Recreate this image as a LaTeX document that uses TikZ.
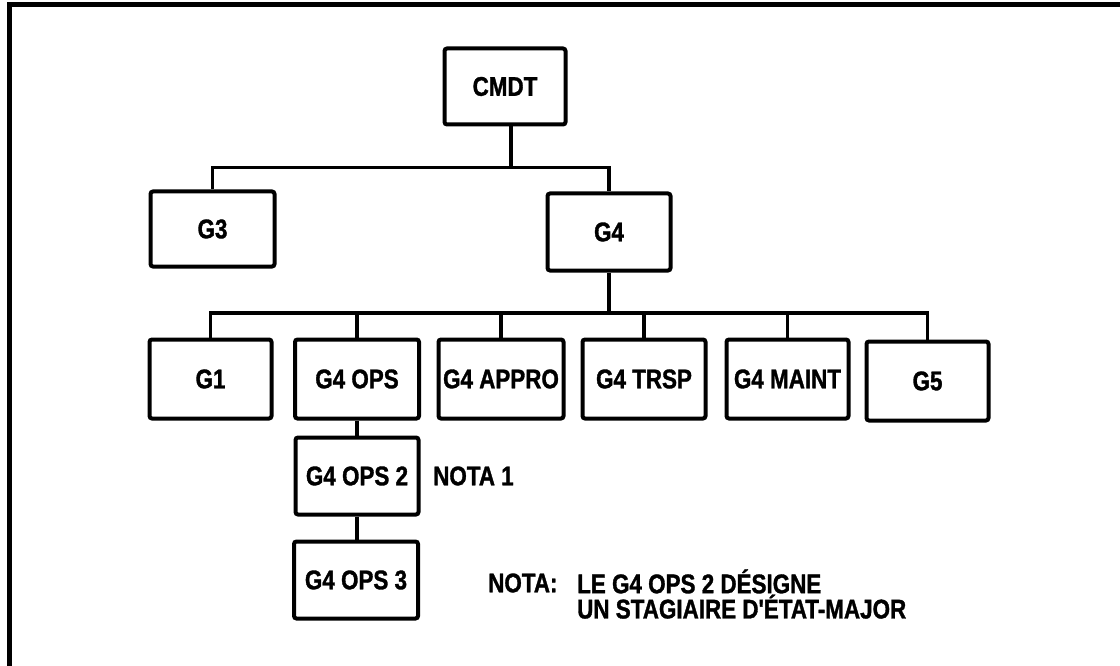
\documentclass[tikz,border=0pt]{standalone}
\usepackage{fontspec}
\newfontfamily\lab[FakeStretch=0.83,FakeBold=1.2]{Liberation Sans}
\begin{document}
\begin{tikzpicture}[x=1pt,y=-1pt,
  lbl/.style={font=\lab\bfseries\fontsize{27}{22}\selectfont},
  box/.style={lbl, draw, line width=4pt, rounded corners=2.5pt, inner sep=0pt, fill=white},
  wire/.style={line width=3.8pt},
  txt/.style={lbl, inner sep=0pt, align=left}]
\useasboundingbox (0,0) rectangle (1120,666);
\fill[white] (0,0) rectangle (1120,666);
\draw[line width=5pt] (1120,4.5) -- (9.5,4.5) -- (9.5,666);

\node[box, minimum width=121pt, minimum height=76pt] (cmdt) at (505,86.5) {CMDT};
\node[box, minimum width=124pt, minimum height=75pt] (g3) at (212.5,229) {G3};
\node[box, minimum width=123pt, minimum height=77pt] (g4) at (609,232) {G4};

\node[box, minimum width=122pt, minimum height=79pt] (g1) at (210.5,379) {G1};
\node[box, minimum width=124pt, minimum height=79pt] (ops) at (357,379) {G4 OPS};
\node[box, minimum width=125pt, minimum height=79pt] (appro) at (501,379) {G4 APPRO};
\node[box, minimum width=123pt, minimum height=79pt] (trsp) at (644,379) {G4 TRSP};
\node[box, minimum width=122pt, minimum height=79pt] (maint) at (787.5,379) {G4 MAINT};
\node[box, minimum width=122pt, minimum height=79pt] (g5) at (927.5,381) {G5};

\node[box, minimum width=123pt, minimum height=77pt] (ops2) at (357,476) {G4 OPS 2};
\node[box, minimum width=124pt, minimum height=77pt] (ops3) at (356,580) {G4 OPS 3};

\node[txt, anchor=west] (nota1) at (433,476) {NOTA 1};
\node[txt, anchor=west] (notalbl) at (488,583) {NOTA:};
\node[txt, anchor=west] (notatxt) at (577,594) {LE G4 OPS 2 DÉSIGNE\\UN STAGIAIRE D'ÉTAT-MAJOR};

\coordinate (b1) at (511,167.5);
\coordinate (b2) at (611,313);
\draw[wire] (cmdt.south -| b1) -- (b1);
\draw[wire] (g3.north) |- (b1) -| (g4.north);
\draw[wire] (g4.south) -- (g4.south |- b2);
\draw[wire] (g1.north) |- (b2) -| (g5.north);
\foreach \n in {ops,appro,trsp,maint} \draw[wire] (\n.north) -- (\n.north |- b2);
\draw[wire] (ops.south) -- (ops2.north);
\draw[wire] (ops2.south) -- (ops2.south |- ops3.north);
\end{tikzpicture}
\end{document}
